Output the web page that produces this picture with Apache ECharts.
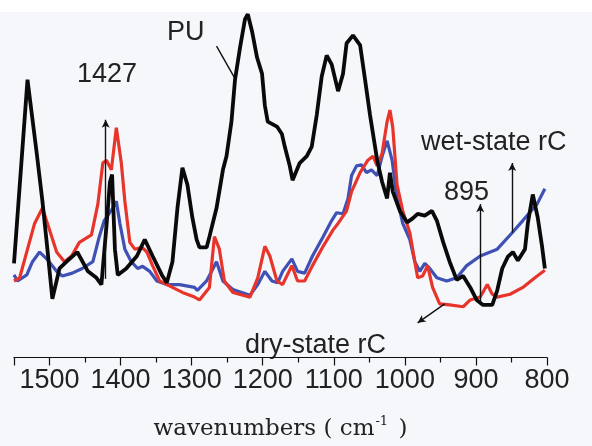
<!DOCTYPE html>
<html>
<head>
<meta charset="utf-8">
<script src="https://cdn.jsdelivr.net/npm/echarts@6/dist/echarts.min.js"></script>
<style>
html, body { margin: 0; padding: 0; background: #f6f7fb; }
#main { width: 592px; height: 446px; }
</style>
</head>
<body>
<div id="main"></div>
<script>
// PU (black)
var puWn = [1550,1531,1518,1510,1503,1496,1486,1476,1461,1446,1434,1427,1420,1415,1412,1408,1404,1392,1377,1366,1355,1342,1335,1327,1320,1313,1306,1299,1293,1289,1279,1275,1265,1256,1251,1244,1239,1232,1225,1221,1215,1208,1201,1197,1193,1180,1173,1169,1162,1158,1148,1138,1131,1124,1117,1110,1103,1094,1087,1082,1073,1063,1056,1049,1042,1039,1032,1025,1021,1017,1007,997,989,982,972,962,955,946,937,927,918,908,899,890,877,870,863,855,848,841,831,827,820,813,807,803];
var puAbs = [26.3,77.7,57.1,43.7,30.3,16.4,24.9,26.8,29.5,24.1,22.3,20.4,36.5,49.1,51.2,30.3,23.1,24.9,28.4,33.0,28.4,23.1,20.9,26.8,41.8,53.1,48.3,39.1,33.0,30.8,30.8,33.8,41.8,52.5,56.3,66.0,77.7,86.6,94.6,96.0,91.2,83.9,79.4,70.5,66.0,64.6,62.5,59.0,53.6,49.6,54.4,56.3,59.0,67.8,78.6,84.5,82.0,74.5,79.4,87.9,90.1,87.4,77.7,67.8,59.0,55.2,49.1,44.5,51.7,46.4,41.0,37.8,38.9,40.2,39.7,41.0,38.3,32.2,26.8,21.7,22.8,19.6,16.1,14.7,14.7,18.8,24.9,28.2,29.5,27.1,30.3,37.5,45.6,39.1,31.1,24.9];

// dry-state rC (red)
var dryWn = [1550,1542,1531,1521,1510,1500,1490,1479,1469,1458,1441,1432,1425,1420,1413,1406,1399,1394,1387,1380,1370,1363,1355,1345,1327,1313,1296,1289,1275,1268,1261,1254,1242,1218,1207,1197,1190,1180,1172,1159,1151,1141,1130,1115,1101,1094,1082,1075,1063,1052,1045,1039,1032,1025,1021,1017,1011,1003,993,986,982,975,968,961,951,937,918,908,894,884,877,870,852,834,817,803];
var dryAbs = [21.4,22.3,30.3,37.5,41.8,35.7,29.5,26.8,28.4,32.2,34.3,42.9,54.4,55.2,52.5,64.3,54.4,43.7,32.2,30.3,30.8,29.5,25.7,21.4,19.6,18.2,16.9,16.1,19.6,33.8,30.3,21.4,18.2,16.9,22.3,31.1,28.4,21.4,20.4,25.7,21.4,21.4,25.7,31.1,35.7,37.5,41.0,46.4,51.7,55.2,56.3,53.6,57.1,66.0,69.2,64.3,48.3,41.0,34.9,26.8,22.3,22.8,25.7,19.6,15.0,14.7,14.2,16.1,16.9,20.4,17.7,16.9,17.7,19.6,22.3,24.4];

// wet-state rC (blue)
var wetWn = [1550,1545,1532,1524,1514,1504,1490,1482,1468,1454,1439,1430,1423,1411,1406,1401,1394,1385,1376,1369,1359,1349,1335,1317,1296,1292,1279,1265,1256,1242,1218,1207,1197,1187,1179,1172,1159,1151,1141,1130,1115,1103,1096,1087,1080,1075,1068,1061,1054,1047,1039,1032,1025,1018,1011,1003,993,986,979,972,965,955,941,927,913,894,870,849,834,814,803];
var wetAbs = [23.1,21.4,23.1,26.8,29.5,27.6,24.1,22.8,23.6,24.9,26.8,33.8,38.3,41.8,43.7,37.5,30.3,26.8,24.9,25.5,24.1,21.4,20.4,20.4,19.6,18.8,21.4,26.8,21.4,19.0,17.4,20.4,24.1,21.4,20.9,24.1,27.6,24.1,23.6,28.4,33.8,38.3,40.5,40.2,44.5,50.9,53.6,53.9,51.7,52.5,50.9,56.3,60.6,55.2,44.5,37.5,33.0,26.8,24.1,26.3,24.9,22.3,21.4,22.3,25.7,28.4,30.3,34.9,38.3,42.9,47.2];

// annotation pointers [from, to] in (wavenumber, absorbance)
var arrowLines = [
  [[1421, 22], [1421, 66.5]],
  [[894, 15.5], [894, 42.9]],
  [[849, 34.9], [849, 54.4]],
  [[944, 15.0], [982, 9.7]]
];
var plainLines = [
  [[1239, 78.0], [1265, 87.1]]
];

function pairs(xs, ys) {
  return xs.map(function (x, i) { return [x, ys[i]]; });
}

var chartDom = document.getElementById('main');
var myChart = echarts.init(chartDom);
var option;

var labelFont = 'Liberation Sans';

option = {
  backgroundColor: '#f6f7fb',
  animation: false,
  grid: { left: 14, right: 45, top: 0, bottom: 73 },
  xAxis: {
    type: 'value',
    inverse: true,
    min: 800,
    max: 1550,
    interval: 100,
    name: '{a|wavenumbers ( cm}{s|-1}{a| )}',
    nameLocation: 'middle',
    nameGap: 58,
    nameTextStyle: {
      rich: {
        a: { fontFamily: 'DejaVu Serif', fontSize: 23, color: '#222', lineHeight: 28 },
        s: { fontFamily: 'DejaVu Serif', fontSize: 13, color: '#222', lineHeight: 28, verticalAlign: 'top', padding: [0, 3, 12, 1] }
      }
    },
    splitLine: { show: false },
    axisLine: { lineStyle: { color: '#111', width: 1.2 } },
    axisTick: { inside: false, length: 8, lineStyle: { color: '#111', width: 1.2 } },
    minorTick: { show: true, splitNumber: 2, length: 5, lineStyle: { color: '#111', width: 1.2 } },
    axisLabel: {
      showMaxLabel: false,
      margin: 10,
      fontFamily: labelFont,
      fontSize: 27,
      color: '#222',
      formatter: function (v) { return String(v); }
    }
  },
  yAxis: {
    type: 'value',
    min: 0,
    max: 100,
    show: false
  },
  series: [
    {
      name: 'wet-state rC',
      type: 'line',
      data: pairs(wetWn, wetAbs),
      showSymbol: false,
      lineStyle: { color: '#3f51b5', width: 3.2 }
    },
    {
      name: 'dry-state rC',
      type: 'line',
      data: pairs(dryWn, dryAbs),
      showSymbol: false,
      lineStyle: { color: '#e8352b', width: 3.2 }
    },
    {
      name: 'PU',
      type: 'line',
      data: pairs(puWn, puAbs),
      showSymbol: false,
      lineStyle: { color: '#0a0a0a', width: 3.8 },
      markLine: {
        silent: true,
        symbol: ['none', 'arrow'],
        symbolSize: [6, 8],
        label: { show: false },
        lineStyle: { color: '#111', width: 1.4, type: 'solid' },
        data: arrowLines.map(function (l) {
          return [{ coord: l[0] }, { coord: l[1] }];
        }).concat(plainLines.map(function (l) {
          return [{ coord: l[0], symbol: 'none' }, { coord: l[1], symbol: 'none' }];
        }))
      }
    }
  ],
  graphic: [
    { type: 'rect', left: 0, top: 0, shape: { width: 592, height: 12 }, style: { fill: '#ffffff' }, z: -1 },
    { type: 'text', x: 167, y: 33, style: { text: 'PU', fontFamily: labelFont, fontSize: 27, fill: '#222', textVerticalAlign: 'middle' } },
    { type: 'text', x: 77, y: 75, style: { text: '1427', fontFamily: labelFont, fontSize: 27, fill: '#222', textVerticalAlign: 'middle' } },
    { type: 'text', x: 421, y: 143, style: { text: 'wet-state rC', fontFamily: labelFont, fontSize: 27, fill: '#222', textVerticalAlign: 'middle' } },
    { type: 'text', x: 444, y: 193, style: { text: '895', fontFamily: labelFont, fontSize: 27, fill: '#222', textVerticalAlign: 'middle' } },
    { type: 'text', x: 245, y: 346, style: { text: 'dry-state rC', fontFamily: labelFont, fontSize: 27, fill: '#222', textVerticalAlign: 'middle' } }
  ]
};

option && myChart.setOption(option);
</script>
</body>
</html>
